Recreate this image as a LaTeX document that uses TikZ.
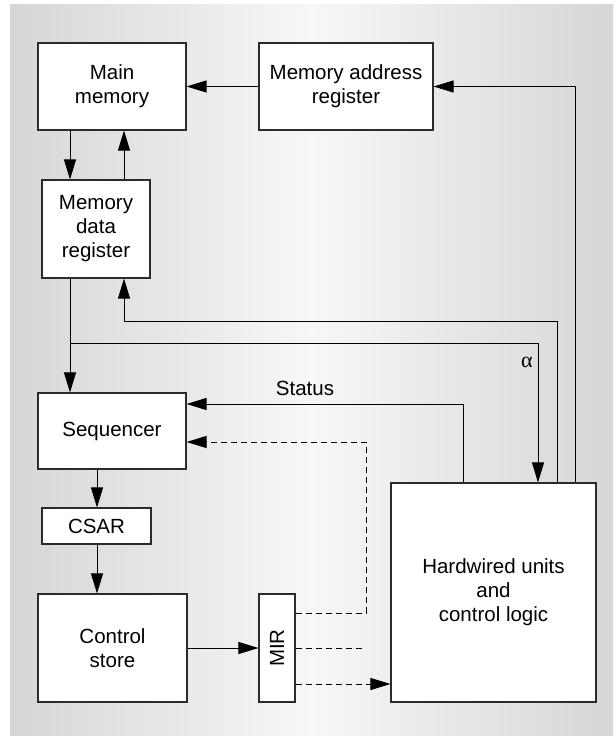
\documentclass[tikz,border=0pt]{standalone}
\usepackage{fontspec}
\setmainfont{Liberation Sans}
\newfontfamily\greekfont{Liberation Serif}
\usetikzlibrary{arrows.meta}
\definecolor{panelgray}{HTML}{D5D6D8}
\definecolor{panellight}{HTML}{F7F7F7}
\definecolor{edgegray}{HTML}{2B2B2B}

\begin{document}
\begin{tikzpicture}[x=1pt, y=-1pt,
        every node/.style={font=\fontsize{20.5}{24}\selectfont},
        unit/.style={draw=edgegray, line width=1.1pt, fill=white, inner sep=0pt, align=center},
        arr/.style={-{Triangle[length=20pt,width=12pt]}, line width=0.9pt},
        darr/.style={arr, dash pattern=on 6pt off 4pt},
        dline/.style={line width=0.9pt, dash pattern=on 6pt off 4pt},
        lbl/.style={inner sep=0pt}]
    \useasboundingbox (0,0) rectangle (613,736);
    \shade[left color=panelgray, right color=panelgray, middle color=panellight] (10,4) rectangle (613,736);

    % blocks
    \node[unit, minimum width=148pt, minimum height=87pt] (mainmem) at (112,86.5) {Main\\memory};
    \node[unit, minimum width=174pt, minimum height=87pt] (mar) at (346,86.5) {Memory address\\register};
    \node[unit, minimum width=108pt, minimum height=98pt] (mdr) at (96,229) {Memory\\data\\register};
    \node[unit, minimum width=148pt, minimum height=76pt] (seq) at (112,431) {Sequencer};
    \node[unit, minimum width=109pt, minimum height=36pt] (csar) at (96.5,526) {CSAR};
    \node[unit, minimum width=149pt, minimum height=108pt] (cstore) at (112.5,648) {Control\\store};
    \node[unit, minimum width=36pt, minimum height=108pt] (mir) at (277,648) {\rotatebox{90}{MIR}};
    \node[unit, minimum width=205pt, minimum height=219pt] (hw) at (493.5,592.5) {Hardwired units\\and\\control logic};

    % bus positions
    \coordinate (xa) at (70,0);
    \coordinate (xb) at (124,0);
    \coordinate (xc) at (538,0);
    \coordinate (xd) at (557,0);
    \coordinate (xe) at (463,0);
    \coordinate (xf) at (575,0);
    \coordinate (xg) at (366,0);
    \coordinate (xh) at (97,0);
    \coordinate (ya) at (0,343);
    \coordinate (yb) at (0,321);
    \coordinate (yc) at (0,404);
    \coordinate (yd) at (0,442);
    \coordinate (ye) at (0,613);
    \coordinate (yf) at (0,684);
    \coordinate (stub) at (363,648);

    % memory side
    \draw[arr] (mar.west) -- (mainmem.east);
    \draw[arr] (xf |- hw.north) |- (mar.east);
    \draw[arr] (xa |- mainmem.south) -- (xa |- mdr.north);
    \draw[arr] (xb |- mdr.north) -- (xb |- mainmem.south);
    \draw[arr] (xd |- hw.north) |- (xb |- yb) -- (xb |- mdr.south);
    \draw[arr] (xa |- mdr.south) -- (xa |- seq.north);
    \draw[arr] (xa |- ya) -| (xc |- hw.north);
    \node[lbl, font=\fontsize{22}{24}\greekfont] (alpha) at (527,362) {α};

    % sequencing
    \draw[arr] (xe |- hw.north) |- (seq.east |- yc);
    \node[lbl] (status) at (305,388) {Status};
    \draw[arr] (xh |- seq.south) -- (xh |- csar.north);
    \draw[arr] (xh |- csar.south) -- (xh |- cstore.north);
    \draw[arr] (cstore.east) -- (mir.west);

    % microinstruction fields
    \draw[darr] (mir.east |- ye) -| (xg |- yd) -- (seq.east |- yd);
    \draw[dline] (mir.east) -- (stub);
    \draw[darr] (mir.east |- yf) -- (hw.west |- yf);
\end{tikzpicture}
\end{document}
